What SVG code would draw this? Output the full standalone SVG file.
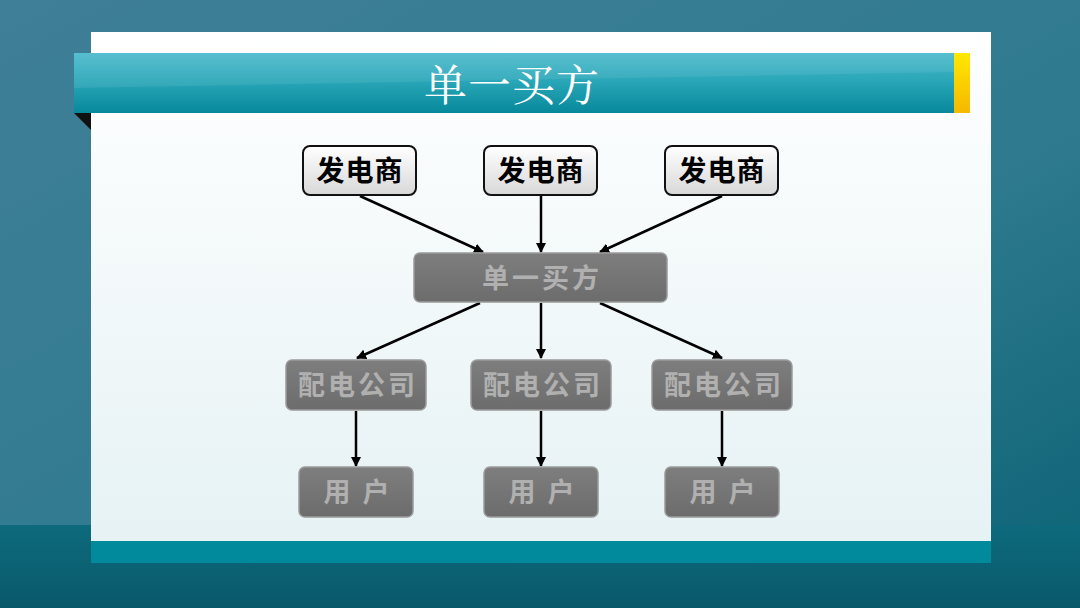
<svg xmlns="http://www.w3.org/2000/svg" width="1080" height="608" viewBox="0 0 1080 608">
<defs>
<linearGradient id="bg" x1="0" y1="0" x2="1" y2="1">
<stop offset="0" stop-color="#3f7f98"/><stop offset="0.6" stop-color="#2f7a8e"/><stop offset="1" stop-color="#0b6274"/>
</linearGradient>
<linearGradient id="bot" x1="0" y1="0" x2="0" y2="1">
<stop offset="0" stop-color="#0d6a7c"/><stop offset="1" stop-color="#09596a"/>
</linearGradient>
<linearGradient id="banner" x1="0" y1="0" x2="0" y2="1">
<stop offset="0" stop-color="#49b9cb"/><stop offset="0.45" stop-color="#2aa7b8"/><stop offset="1" stop-color="#07899b"/>
</linearGradient>
<linearGradient id="gold" x1="0" y1="0" x2="0" y2="1">
<stop offset="0" stop-color="#ffe800"/><stop offset="1" stop-color="#f5b800"/>
</linearGradient>
<linearGradient id="panel" x1="0" y1="0" x2="0" y2="1">
<stop offset="0" stop-color="#ffffff"/><stop offset="1" stop-color="#e6f2f4"/>
</linearGradient>
<linearGradient id="wbox" x1="0" y1="0" x2="0" y2="1">
<stop offset="0" stop-color="#ffffff"/><stop offset="1" stop-color="#d8d8d8"/>
</linearGradient>
<linearGradient id="gbox" x1="0" y1="0" x2="0" y2="1">
<stop offset="0" stop-color="#7e7e7e"/><stop offset="1" stop-color="#6c6c6c"/>
</linearGradient>
<marker id="arr" markerWidth="10" markerHeight="10" refX="9" refY="5" orient="auto" markerUnits="userSpaceOnUse">
<path d="M0,0 L10,5 L0,10 z" fill="#000"/>
</marker>
<style>
.wn{fill:url(#wbox);stroke:#111;stroke-width:2}
.gn{fill:url(#gbox);stroke:#9a9a9a;stroke-width:1.5}
.wt{font-family:"Noto Sans CJK SC",sans-serif;font-weight:bold;font-size:28px;fill:#000;text-anchor:middle;letter-spacing:1px}
.gt{font-family:"Noto Sans CJK SC",sans-serif;font-weight:bold;font-size:27px;fill:#b0b0b0;text-anchor:middle;letter-spacing:3px}
.c{stroke:#000;stroke-width:2.5;fill:none;marker-end:url(#arr)}
</style>
</defs>
<rect x="0" y="0" width="1080" height="608" fill="url(#bg)"/>
<rect x="0" y="525" width="1080" height="83" fill="url(#bot)"/>
<rect x="91" y="32" width="900" height="510" fill="url(#panel)"/>
<rect x="91" y="541" width="900" height="22" fill="#008a9c"/>
<polygon points="74,113 91,113 91,130" fill="#111"/>
<rect x="74" y="53" width="896" height="60" fill="url(#banner)"/>
<polygon points="74,53 954,53 954,72 74,88" fill="#ffffff" opacity="0.08"/>
<rect x="954" y="53" width="16" height="60" fill="url(#gold)"/>
<text x="512" y="101" font-family="'Noto Serif CJK SC','Noto Sans CJK SC',serif" font-size="43" fill="#ffffff" text-anchor="middle" letter-spacing="1">单一买方</text>
<g id="connectors">
<line class="c" x1="360" y1="196" x2="483" y2="252"/>
<line class="c" x1="541" y1="196" x2="541" y2="252"/>
<line class="c" x1="722" y1="196" x2="600" y2="252"/>
<line class="c" x1="480" y1="303" x2="357" y2="358"/>
<line class="c" x1="541" y1="303" x2="541" y2="358"/>
<line class="c" x1="600" y1="303" x2="722" y2="358"/>
<line class="c" x1="356" y1="411" x2="356" y2="466"/>
<line class="c" x1="541" y1="411" x2="541" y2="466"/>
<line class="c" x1="722" y1="411" x2="722" y2="466"/>
</g>
<g id="gen1"><rect class="wn" x="303" y="146" width="113" height="49" rx="7"/><text class="wt" x="360" y="181">发电商</text></g>
<g id="gen2"><rect class="wn" x="484" y="146" width="113" height="49" rx="7"/><text class="wt" x="541" y="181">发电商</text></g>
<g id="gen3"><rect class="wn" x="665" y="146" width="113" height="49" rx="7"/><text class="wt" x="722" y="181">发电商</text></g>
<g id="buyer"><rect class="gn" x="414" y="253" width="253" height="49" rx="6"/><text class="gt" x="542" y="288">单一买方</text></g>
<g id="dist1"><rect class="gn" x="286" y="360" width="140" height="50" rx="6"/><text class="gt" x="358" y="395">配电公司</text></g>
<g id="dist2"><rect class="gn" x="471" y="360" width="140" height="50" rx="6"/><text class="gt" x="543" y="395">配电公司</text></g>
<g id="dist3"><rect class="gn" x="652" y="360" width="140" height="50" rx="6"/><text class="gt" x="724" y="395">配电公司</text></g>
<g id="user1"><rect class="gn" x="299" y="467" width="114" height="50" rx="6"/><text class="gt" x="358" y="502" xml:space="preserve">用 户</text></g>
<g id="user2"><rect class="gn" x="484" y="467" width="114" height="50" rx="6"/><text class="gt" x="543" y="502" xml:space="preserve">用 户</text></g>
<g id="user3"><rect class="gn" x="665" y="467" width="114" height="50" rx="6"/><text class="gt" x="724" y="502" xml:space="preserve">用 户</text></g>
</svg>
